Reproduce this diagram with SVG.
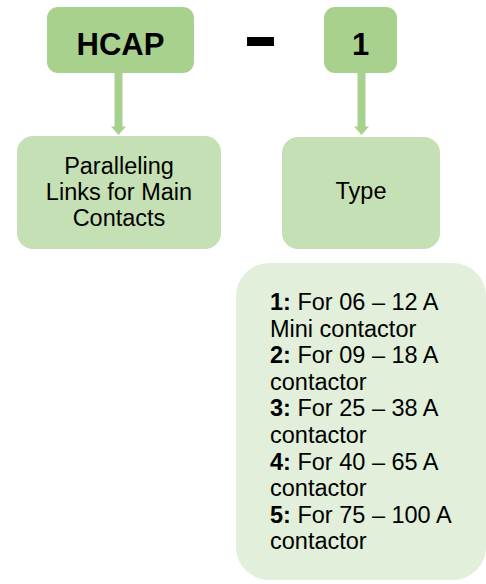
<svg xmlns="http://www.w3.org/2000/svg" width="486" height="584" viewBox="0 0 486 584">
  <style>
    .t { font-family: "Liberation Sans", Arial, sans-serif; fill: #000; }
    .code { font-size: 31px; font-weight: bold; text-anchor: middle; }
    .lbl { font-size: 23.5px; text-anchor: middle; }
    .lst { font-size: 23.5px; }
    .b { font-weight: bold; }
    .head { fill: #a9d18e; }
    .mid { fill: #c5e0b4; }
    .pale { fill: #e2efda; }
    .shaft { stroke: #a9d18e; stroke-width: 8; }
    .tip { fill: #a9d18e; }
  </style>
  <rect width="486" height="584" fill="#ffffff"/>

  <g id="connectors">
    <line class="shaft" x1="118.5" y1="73" x2="118.5" y2="127"/>
    <polygon class="tip" points="111,126.5 126,126.5 118.5,135"/>
    <line class="shaft" x1="361.5" y1="73" x2="361.5" y2="127"/>
    <polygon class="tip" points="354,126.5 369,126.5 361.5,135"/>
  </g>

  <g id="code-hcap">
    <rect class="head" x="47" y="7" width="147" height="66" rx="11"/>
    <text class="t code" x="120.5" y="55">HCAP</text>
  </g>

  <g id="separator">
    <rect x="247" y="37" width="27" height="9" fill="#000"/>
  </g>

  <g id="code-type">
    <rect class="head" x="324" y="7" width="73" height="66" rx="11"/>
    <text class="t code" x="360.5" y="55">1</text>
  </g>

  <g id="desc-hcap">
    <rect class="mid" x="17" y="136" width="204" height="113" rx="16"/>
    <text class="t lbl" x="119" y="174">Paralleling</text>
    <text class="t lbl" x="119" y="200">Links for Main</text>
    <text class="t lbl" x="119" y="226">Contacts</text>
  </g>

  <g id="desc-type">
    <rect class="mid" x="282" y="137" width="158" height="112" rx="16"/>
    <text class="t lbl" x="361" y="199">Type</text>
  </g>

  <g id="type-options">
    <rect class="pale" x="236" y="263" width="250" height="317" rx="33"/>
    <text class="t lst" x="270" y="310"><tspan class="b">1:</tspan> For 06 – 12 A</text>
    <text class="t lst" x="270" y="336.6">Mini contactor</text>
    <text class="t lst" x="270" y="363.2"><tspan class="b">2:</tspan> For 09 – 18 A</text>
    <text class="t lst" x="270" y="389.8">contactor</text>
    <text class="t lst" x="270" y="416.4"><tspan class="b">3:</tspan> For 25 – 38 A</text>
    <text class="t lst" x="270" y="443">contactor</text>
    <text class="t lst" x="270" y="469.6"><tspan class="b">4:</tspan> For 40 – 65 A</text>
    <text class="t lst" x="270" y="496.2">contactor</text>
    <text class="t lst" x="270" y="522.8"><tspan class="b">5:</tspan> For 75 – 100 A</text>
    <text class="t lst" x="270" y="549.4">contactor</text>
  </g>
</svg>
